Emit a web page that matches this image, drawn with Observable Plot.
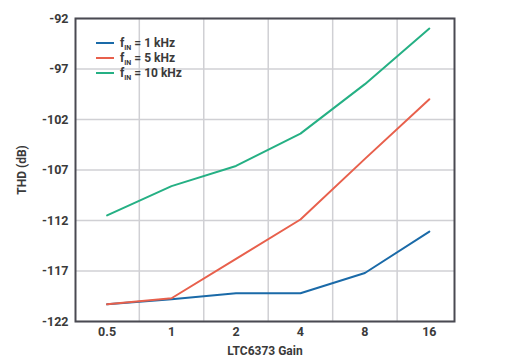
<!DOCTYPE html>
<html>
<head>
<meta charset="utf-8">
<script src="https://cdn.jsdelivr.net/npm/d3@7"></script>
<script src="https://cdn.jsdelivr.net/npm/@observablehq/plot@0.6"></script>
<style>
  html, body { margin: 0; padding: 0; background: #fff; }
  #chart { width: 510px; height: 362px; }
  svg { font-family: Roboto, "DejaVu Sans", sans-serif; }
</style>
</head>
<body>
<div id="chart"></div>
<script>
const gains = ["0.5", "1", "2", "4", "8", "16"];
const thd1k = [-120.3, -119.8, -119.2, -119.2, -117.2, -113.1];
const thd5k = [-120.3, -119.7, -115.8, -111.9, -105.9, -100.0];
const thd10k = [-111.5, -108.6, -106.6, -103.4, -98.5, -93.0];
const yTicks = [-122, -117, -112, -107, -102, -97, -92];
const seriesNames = ["1 kHz", "5 kHz", "10 kHz"];
const seriesColors = ["#1a6aa8", "#e8604c", "#25b084"];
const seriesValues = [thd1k, thd5k, thd10k];

const rows = [];
seriesValues.forEach((vals, s) => {
  vals.forEach((v, i) => rows.push({ idx: i, gain: gains[i], thd: v, series: seriesNames[s] }));
});
const gridX = gains.slice(1).map((g, i) => i + 0.5);

const plot = Plot.plot({
  width: 510,
  height: 362,
  marginLeft: 75,
  marginRight: 56,
  marginTop: 18,
  marginBottom: 41,
  style: { fontFamily: "Roboto, sans-serif", fontSize: "12.5px", fontWeight: 700, color: "#3a3a3a" },
  x: {
    type: "linear",
    domain: [-0.49, 5.39],
    ticks: gains.map((g, i) => i),
    tickFormat: (d) => gains[d],
    tickSize: 0,
    tickPadding: 6,
    label: "LTC6373 Gain",
    labelAnchor: "center",
    labelArrow: "none",
    labelOffset: 33
  },
  y: {
    domain: [-122, -92],
    ticks: yTicks,
    tickFormat: (d) => String(d).replace("\u2212", "-"),
    tickSize: 0,
    tickPadding: 7,
    label: "THD (dB)",
    labelAnchor: "center",
    labelArrow: "none",
    labelOffset: 58
  },
  color: { domain: seriesNames, range: seriesColors },
  marks: [
    Plot.ruleY(yTicks, { stroke: "#d0d0d4", strokeWidth: 1.5 }),
    Plot.ruleX(gridX, { stroke: "#d0d0d4", strokeWidth: 1.5 }),
    Plot.line(rows, { x: "idx", y: "thd", z: "series", stroke: "series", strokeWidth: 2 }),
    Plot.frame({ stroke: "#4a4a52", strokeWidth: 2 })
  ]
});

const svg = d3.select(plot);
svg.selectAll("[aria-label='x-axis tick label'] text, [aria-label='y-axis tick label'] text")
  .attr("font-weight", 700).attr("fill", "#3a3a3a");
svg.selectAll("[aria-label='x-axis label'] text, [aria-label='y-axis label'] text")
  .attr("font-weight", 700).attr("fill", "#3a3a3a").attr("font-size", 12);

// Legend
const lg = svg.append("g").attr("font-family", "Roboto, sans-serif").attr("font-weight", 700)
  .attr("fill", "#3a3a3a").attr("text-anchor", "start");
seriesNames.forEach((name, i) => {
  const y = 43 + i * 15;
  lg.append("line").attr("x1", 96).attr("x2", 114).attr("y1", y).attr("y2", y)
    .attr("stroke", seriesColors[i]).attr("stroke-width", 2);
  const t = lg.append("text").attr("x", 120).attr("y", y + 4).attr("font-size", 12).attr("text-anchor", "start");
  t.append("tspan").text("f");
  t.append("tspan").attr("font-size", 7).attr("dy", 2.5).text("IN");
  t.append("tspan").attr("dy", -2.5).text(" = " + name);
});

document.getElementById("chart").appendChild(plot);
</script>
</body>
</html>
